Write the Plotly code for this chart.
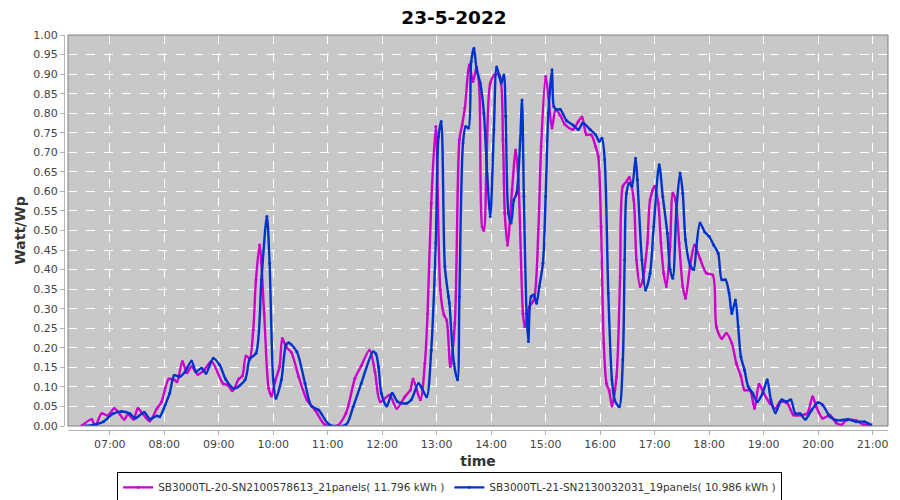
import plotly.graph_objects as go

DAY = "2022-05-23 "

# SB3000TL-20-SN2100578613 (magenta)
t_20 = ["06:29", "06:40", "06:44", "06:51", "06:58", "07:05", "07:16", "07:20", "07:26", "07:31",
        "07:36", "07:44", "07:52", "07:57", "08:05", "08:11", "08:14", "08:20", "08:25", "08:30",
        "08:37", "08:44", "08:52", "09:05", "09:10", "09:15", "09:22", "09:26", "09:30", "09:34",
        "09:38", "09:41", "09:45", "09:50", "09:55", "09:58", "10:02", "10:07", "10:10", "10:14",
        "10:20", "10:28", "10:37", "10:46", "10:57", "11:10", "11:20", "11:30", "11:37", "11:46",
        "11:52", "11:58", "12:08", "12:16", "12:25", "12:31", "12:34", "12:42", "12:47", "12:50",
        "12:54", "12:59", "13:04", "13:08", "13:11", "13:15", "13:20", "13:25", "13:28", "13:31",
        "13:36", "13:40", "13:44", "13:47", "13:50", "13:52", "13:55", "13:59", "14:04", "14:09",
        "14:13", "14:15", "14:18", "14:23", "14:27", "14:30", "14:35", "14:37", "14:42", "14:47",
        "14:52", "14:55", "15:00", "15:03", "15:07", "15:11", "15:16", "15:21", "15:30", "15:36",
        "15:40", "15:45", "15:50", "15:55", "15:58", "16:01", "16:04", "16:07", "16:10", "16:13",
        "16:18", "16:22", "16:25", "16:29", "16:32", "16:37", "16:40", "16:44", "16:47", "16:52",
        "16:55", "17:00", "17:04", "17:07", "17:10", "17:13", "17:17", "17:20", "17:23", "17:27",
        "17:31", "17:34", "17:39", "17:44", "17:50", "17:57", "18:04", "18:08", "18:14", "18:19",
        "18:25", "18:30", "18:35", "18:39", "18:45", "18:50", "18:55", "19:00", "19:07", "19:13",
        "19:18", "19:26", "19:33", "19:40", "19:48", "19:54", "19:58", "20:05", "20:13", "20:20",
        "20:26", "20:31", "20:42", "20:50", "20:55"]
v_20 = [0.000, 0.017, 0.000, 0.032, 0.027, 0.045, 0.017, 0.030, 0.017, 0.045,
        0.032, 0.013, 0.045, 0.062, 0.120, 0.118, 0.113, 0.165, 0.136, 0.152,
        0.132, 0.143, 0.165, 0.108, 0.105, 0.090, 0.120, 0.128, 0.179, 0.173,
        0.246, 0.374, 0.463, 0.288, 0.096, 0.077, 0.113, 0.152, 0.224, 0.203,
        0.188, 0.126, 0.067, 0.041, 0.003, 0.000, 0.032, 0.122, 0.154, 0.194,
        0.139, 0.062, 0.079, 0.045, 0.075, 0.092, 0.120, 0.067, 0.160, 0.288,
        0.570, 0.766, 0.348, 0.284, 0.271, 0.152, 0.263, 0.732, 0.770, 0.813,
        0.924, 0.881, 0.918, 0.860, 0.510, 0.500, 0.681, 0.877, 0.898, 0.898,
        0.732, 0.544, 0.463, 0.604, 0.706, 0.630, 0.288, 0.254, 0.305, 0.322,
        0.502, 0.715, 0.894, 0.843, 0.762, 0.809, 0.795, 0.772, 0.758, 0.779,
        0.790, 0.745, 0.745, 0.715, 0.689, 0.510, 0.212, 0.109, 0.090, 0.051,
        0.126, 0.382, 0.613, 0.625, 0.636, 0.578, 0.425, 0.357, 0.374, 0.468,
        0.578, 0.613, 0.570, 0.468, 0.391, 0.357, 0.459, 0.595, 0.578, 0.468,
        0.357, 0.327, 0.408, 0.463, 0.428, 0.391, 0.386, 0.254, 0.224, 0.237,
        0.212, 0.160, 0.128, 0.092, 0.091, 0.045, 0.107, 0.084, 0.058, 0.045,
        0.062, 0.058, 0.028, 0.028, 0.032, 0.075, 0.049, 0.020, 0.028, 0.008,
        0.003, 0.015, 0.014, 0.003, 0.003]

# SB3000TL-21-SN2130032031 (blue)
t_21 = ["06:34", "06:46", "06:53", "07:04", "07:13", "07:22", "07:28", "07:38", "07:44", "07:52",
        "07:55", "08:01", "08:06", "08:11", "08:17", "08:23", "08:30", "08:35", "08:41", "08:46",
        "08:54", "09:01", "09:08", "09:17", "09:29", "09:34", "09:41", "09:47", "09:53", "09:56",
        "10:00", "10:03", "10:09", "10:14", "10:17", "10:26", "10:35", "10:42", "10:50", "11:02",
        "11:20", "11:28", "11:37", "11:50", "11:53", "11:56", "11:59", "12:05", "12:11", "12:17",
        "12:27", "12:32", "12:40", "12:43", "12:49", "12:54", "12:59", "13:02", "13:05", "13:09",
        "13:13", "13:14", "13:19", "13:23", "13:25", "13:29", "13:32", "13:35", "13:38", "13:41",
        "13:44", "13:48", "13:52", "13:55", "13:59", "14:03", "14:06", "14:09", "14:11", "14:14",
        "14:16", "14:19", "14:22", "14:25", "14:28", "14:32", "14:34", "14:36", "14:39", "14:41",
        "14:44", "14:47", "14:50", "14:53", "14:57", "15:00", "15:03", "15:07", "15:09", "15:12",
        "15:16", "15:23", "15:30", "15:36", "15:41", "15:49", "15:55", "15:59", "16:02", "16:05",
        "16:09", "16:13", "16:16", "16:21", "16:25", "16:27", "16:29", "16:32", "16:35", "16:39",
        "16:41", "16:46", "16:50", "16:55", "16:59", "17:05", "17:09", "17:14", "17:17", "17:20",
        "17:24", "17:28", "17:31", "17:34", "17:39", "17:43", "17:46", "17:50", "17:55", "18:00",
        "18:05", "18:10", "18:14", "18:18", "18:22", "18:25", "18:29", "18:32", "18:35", "18:39",
        "18:43", "18:48", "18:53", "18:59", "19:04", "19:08", "19:13", "19:20", "19:25", "19:30",
        "19:35", "19:40", "19:46", "19:53", "20:00", "20:05", "20:13", "20:20", "20:26", "20:33",
        "20:42", "20:51", "20:58"]
v_21 = [0.000, 0.005, 0.011, 0.032, 0.037, 0.032, 0.020, 0.035, 0.018, 0.026,
        0.024, 0.054, 0.084, 0.130, 0.126, 0.139, 0.166, 0.139, 0.148, 0.135,
        0.173, 0.156, 0.118, 0.096, 0.118, 0.171, 0.186, 0.374, 0.536, 0.416,
        0.118, 0.071, 0.118, 0.207, 0.213, 0.190, 0.109, 0.051, 0.041, 0.003,
        0.003, 0.049, 0.109, 0.190, 0.185, 0.150, 0.084, 0.051, 0.084, 0.062,
        0.058, 0.067, 0.109, 0.100, 0.075, 0.194, 0.468, 0.740, 0.779, 0.408,
        0.331, 0.314, 0.160, 0.118, 0.331, 0.724, 0.766, 0.762, 0.932, 0.966,
        0.911, 0.877, 0.800, 0.672, 0.536, 0.758, 0.918, 0.894, 0.877, 0.898,
        0.792, 0.544, 0.519, 0.578, 0.595, 0.732, 0.834, 0.587, 0.288, 0.216,
        0.331, 0.335, 0.314, 0.357, 0.416, 0.587, 0.800, 0.911, 0.817, 0.809,
        0.810, 0.781, 0.770, 0.758, 0.775, 0.758, 0.745, 0.728, 0.736, 0.681,
        0.340, 0.118, 0.067, 0.049, 0.169, 0.425, 0.595, 0.621, 0.613, 0.685,
        0.630, 0.425, 0.348, 0.391, 0.510, 0.668, 0.587, 0.493, 0.400, 0.378,
        0.553, 0.647, 0.595, 0.476, 0.412, 0.400, 0.459, 0.519, 0.497, 0.485,
        0.463, 0.442, 0.374, 0.374, 0.340, 0.288, 0.322, 0.254, 0.177, 0.143,
        0.101, 0.084, 0.062, 0.084, 0.118, 0.067, 0.034, 0.067, 0.062, 0.067,
        0.032, 0.032, 0.017, 0.041, 0.060, 0.054, 0.024, 0.015, 0.015, 0.017,
        0.011, 0.011, 0.003]

name_20 = "SB3000TL-20-SN2100578613_21panels( 11.796 kWh )"
name_21 = "SB3000TL-21-SN2130032031_19panels( 10.986 kWh )"

FONT = "DejaVu Sans"
AXIS_GRAY = "#b4b4b4"

fig = go.Figure()

for times, vals, name, color in [(t_20, v_20, name_20, "#cc00cc"),
                                 (t_21, v_21, name_21, "#0033cc")]:
    fig.add_trace(go.Scatter(
        x=[DAY + t for t in times],
        y=vals,
        mode="lines+markers",
        name=name,
        line=dict(color=color, width=2.4, shape="spline", smoothing=0.8),
        marker=dict(size=3, color=color),
    ))

# page body has an 8px margin, so the figure is 8px smaller than the window
fig.update_layout(
    width=892, height=492,
    paper_bgcolor="white",
    plot_bgcolor="#c8c8c8",
    margin=dict(l=56, r=12, t=27, b=70, autoexpand=False),
    font=dict(family=FONT, size=11, color="#444444"),
    title=dict(text="<b>23-5-2022</b>", x=0.5, xanchor="center", y=0.994, yanchor="top",
               pad=dict(t=0, b=0),
               font=dict(family=FONT, size=18.5, color="black")),
    showlegend=True,
    legend=dict(
        orientation="h",
        x=0.468, xanchor="center",
        y=-0.106, yanchor="top",
        bordercolor="black", borderwidth=1,
        bgcolor="white",
        font=dict(family=FONT, size=10.5, color="#333333"),
        itemwidth=30,
        tracegroupgap=0,
    ),
    # plot frame (axes themselves sit a few pixels outside it)
    shapes=[dict(type="rect", xref="x domain", yref="y domain", x0=0, x1=1, y0=0, y1=1,
                 line=dict(color="#808080", width=1), layer="above")],
)

fig.update_xaxes(
    type="date",
    domain=[0.00485, 1],
    anchor="free", position=0,
    range=[DAY + "06:14", DAY + "21:17"],
    tick0=DAY + "07:00", dtick=3600000,
    tickformat="%H:%M",
    showgrid=True, gridcolor="white", griddash="dash", gridwidth=1,
    showline=True, linecolor=AXIS_GRAY, linewidth=1,
    ticks="outside", ticklen=4, tickcolor=AXIS_GRAY,
    zeroline=False, automargin=False,
    title=dict(text="<b>time</b>", font=dict(family=FONT, size=14, color="#333333"), standoff=5),
)

fig.update_yaxes(
    domain=[0.0101, 1],
    anchor="free", position=0,
    range=[0, 1.0],
    dtick=0.05, tick0=0,
    tickformat=".2f",
    showgrid=True, gridcolor="white", griddash="dash", gridwidth=1,
    showline=True, linecolor=AXIS_GRAY, linewidth=1,
    ticks="outside", ticklen=4, tickcolor=AXIS_GRAY,
    zeroline=False, automargin=False,
    title=dict(text="<b>Watt/Wp</b>", font=dict(family=FONT, size=14, color="#333333"), standoff=3),
)

fig.write_html("out.html")
